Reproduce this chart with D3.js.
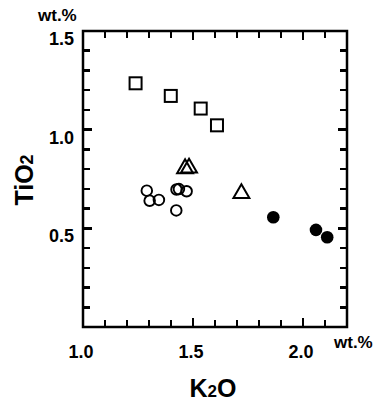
<!DOCTYPE html>
<html><head><meta charset="utf-8">
<script src="https://cdn.jsdelivr.net/npm/d3@7"></script>
<style>html,body{margin:0;padding:0;background:#fff;} svg{display:block;}</style>
</head><body>
<script>
// data (K2O wt.%, TiO2 wt.%)
const squareK2O = [1.239, 1.399, 1.535, 1.609];
const squareTiO2 = [1.235, 1.171, 1.107, 1.022];
const triangleK2O = [1.464, 1.482, 1.72];
const triangleTiO2 = [0.803, 0.806, 0.677];
const openCircleK2O = [1.29, 1.303, 1.345, 1.424, 1.425, 1.436, 1.471];
const openCircleTiO2 = [0.691, 0.640, 0.644, 0.591, 0.697, 0.699, 0.688];
const filledCircleK2O = [1.865, 2.059, 2.11];
const filledCircleTiO2 = [0.556, 0.492, 0.455];
const xTickValues = [1.1, 1.2, 1.3, 1.4, 1.5, 1.6, 1.7, 1.8, 1.9, 2.0, 2.1];
const yTickValues = [0.1, 0.2, 0.3, 0.4, 0.5, 0.6, 0.7, 0.8, 0.9, 1.0, 1.1, 1.2, 1.3, 1.4];
const xTickLabels = ["1.0", "1.5", "2.0"];
const yTickLabels = ["0.5", "1.0", "1.5"];

const W = 385, H = 403;
const L = 83, R = 347, T = 31, B = 327;
const x = d3.scaleLinear().domain([1.0, 2.2]).range([L, R]);
const y = d3.scaleLinear().domain([0, 1.5]).range([B, T]);

const svg = d3.select("body").append("svg").attr("width", W).attr("height", H);
const font = "'Liberation Sans', Arial, Helvetica, sans-serif";
const isMajor = v => Math.abs(v * 2 - Math.round(v * 2)) < 1e-6;
const tlen = v => isMajor(v) ? 9 : 7;

// frame
svg.append("rect").attr("x", L).attr("y", T).attr("width", R - L).attr("height", B - T)
  .attr("fill", "none").attr("stroke", "#000").attr("stroke-width", 2.5);

// inward ticks on all four sides
const tickG = svg.append("g").attr("shape-rendering", "crispEdges");
tickG.selectAll("line.xb").data(xTickValues).join("line").attr("class", "xb")
  .attr("x1", d => x(d)).attr("x2", d => x(d)).attr("y1", B).attr("y2", d => B - tlen(d))
  .attr("stroke", "#000").attr("stroke-width", 2.5);
tickG.selectAll("line.xt").data(xTickValues).join("line").attr("class", "xt")
  .attr("x1", d => x(d)).attr("x2", d => x(d)).attr("y1", T).attr("y2", d => T + tlen(d))
  .attr("stroke", "#000").attr("stroke-width", 2.5);
tickG.selectAll("line.yl").data(yTickValues).join("line").attr("class", "yl")
  .attr("x1", L).attr("x2", d => L + tlen(d)).attr("y1", d => y(d)).attr("y2", d => y(d))
  .attr("stroke", "#000").attr("stroke-width", 2.5);
tickG.selectAll("line.yr").data(yTickValues).join("line").attr("class", "yr")
  .attr("x1", R).attr("x2", d => R - tlen(d)).attr("y1", d => y(d)).attr("y2", d => y(d))
  .attr("stroke", "#000").attr("stroke-width", 2.5);

// tick labels
svg.selectAll("text.xlab").data(xTickLabels).join("text").attr("class", "xlab")
  .attr("x", d => x(+d) - 2).attr("y", 358).attr("text-anchor", "middle")
  .attr("font-family", font).attr("font-weight", "bold").attr("font-size", 18).text(d => d);
svg.selectAll("text.ylab").data(yTickLabels).join("text").attr("class", "ylab")
  .attr("x", 74).attr("y", d => y(+d) + 14).attr("text-anchor", "end")
  .attr("font-family", font).attr("font-weight", "bold").attr("font-size", 18).text(d => d);

// unit labels
svg.append("text").attr("x", 38).attr("y", 21).attr("font-family", font).attr("font-weight", "bold")
  .attr("font-size", 17).text("wt.%");
svg.append("text").attr("x", 334).attr("y", 348).attr("font-family", font).attr("font-weight", "bold")
  .attr("font-size", 17).text("wt.%");

// axis titles
const xTitle = svg.append("text").attr("x", 213).attr("y", 397).attr("text-anchor", "middle")
  .attr("font-family", font).attr("font-weight", "bold").attr("font-size", 25);
xTitle.append("tspan").text("K");
xTitle.append("tspan").attr("font-size", 17).text("2");
xTitle.append("tspan").text("O");

const yTitle = svg.append("text").attr("transform", "translate(33,180) rotate(-90)").attr("text-anchor", "middle")
  .attr("font-family", font).attr("font-weight", "bold").attr("font-size", 25);
yTitle.append("tspan").text("TiO");
yTitle.append("tspan").attr("font-size", 18).text("2");

// marks
svg.selectAll("rect.sq").data(d3.zip(squareK2O, squareTiO2)).join("rect").attr("class", "sq")
  .attr("x", d => x(d[0]) - 6).attr("y", d => y(d[1]) - 6).attr("width", 12).attr("height", 12)
  .attr("fill", "none").attr("stroke", "#000").attr("stroke-width", 2);
const tri = d3.symbol().type(d3.symbolTriangle).size(110);
svg.selectAll("path.tri").data(d3.zip(triangleK2O, triangleTiO2)).join("path").attr("class", "tri")
  .attr("d", tri()).attr("transform", d => `translate(${x(d[0])},${y(d[1])})`)
  .attr("fill", "none").attr("stroke", "#000").attr("stroke-width", 2);
svg.selectAll("circle.oc").data(d3.zip(openCircleK2O, openCircleTiO2)).join("circle").attr("class", "oc")
  .attr("cx", d => x(d[0])).attr("cy", d => y(d[1])).attr("r", 5.3)
  .attr("fill", "none").attr("stroke", "#000").attr("stroke-width", 1.9);
svg.selectAll("circle.fc").data(d3.zip(filledCircleK2O, filledCircleTiO2)).join("circle").attr("class", "fc")
  .attr("cx", d => x(d[0])).attr("cy", d => y(d[1])).attr("r", 6.3).attr("fill", "#000");
</script>
</body></html>
